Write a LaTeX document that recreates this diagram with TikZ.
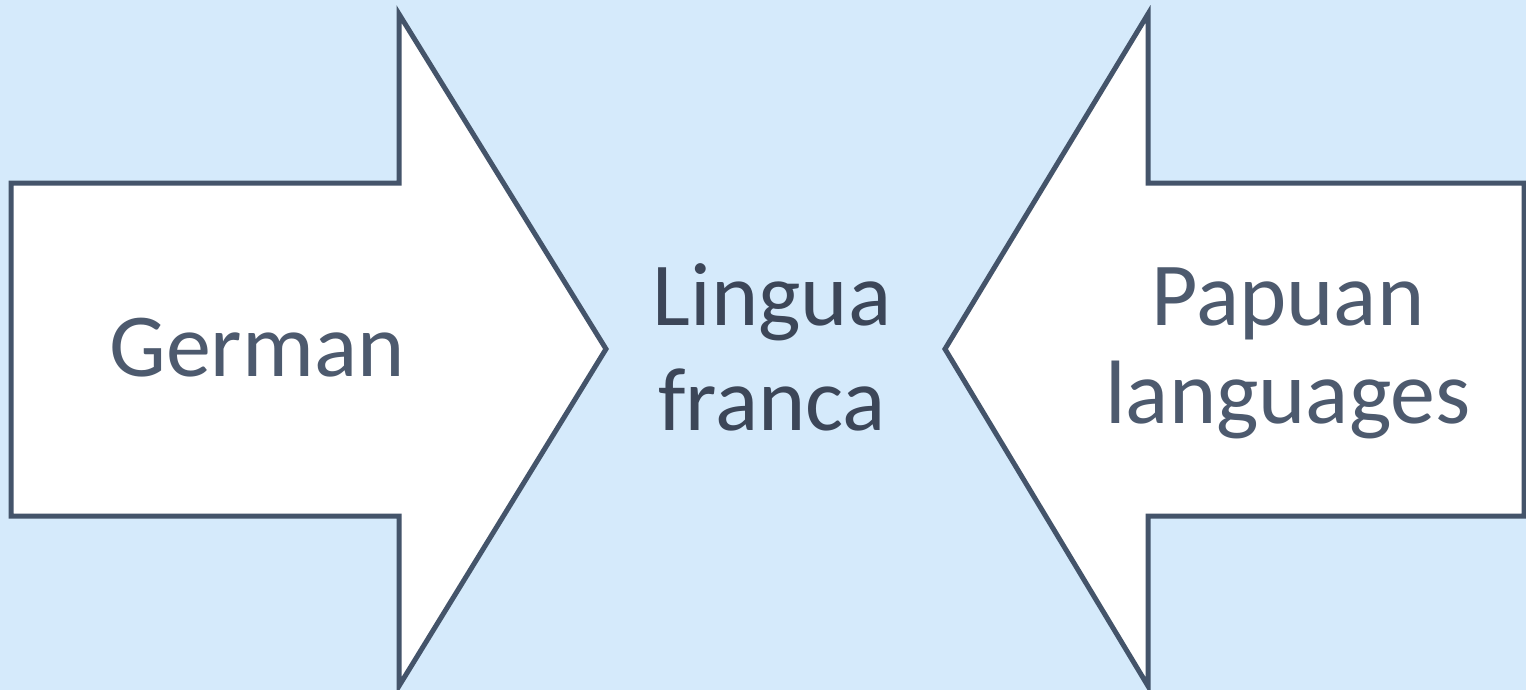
\documentclass[tikz,border=0pt]{standalone}
\usepackage{fontspec}
\setmainfont{Carlito}
\definecolor{bgblue}{HTML}{D5EAFB}
\definecolor{slate}{HTML}{44546A}
\definecolor{textlight}{HTML}{4D5A6E}
\definecolor{textdark}{HTML}{3C4658}
\tikzset{
  bigarrow/.style={draw=slate, fill=white, line width=5pt, line join=miter},
  label/.style={text=textlight, anchor=base, font=\fontsize{90}{108}\selectfont, inner sep=0pt}
}
\begin{document}
\begin{tikzpicture}[x=1pt,y=-1pt]
\fill[bgblue] (0,0) rectangle (1526,690);
\useasboundingbox (0,0) rectangle (1526,690);
\draw[bigarrow] (11,183) -- (399,183) -- (399,14) -- (606,349) -- (399,686) -- (399,516) -- (11,516) -- cycle;
\draw[bigarrow] (1524,183) -- (1148,183) -- (1148,14) -- (945,349) -- (1148,686) -- (1148,516) -- (1524,516) -- cycle;
\node[label] (german) at (257,376) {German};
\node[label, text=textdark] (lingua) at (772,325) {Lingua};
\node[label, text=textdark] (franca) at (772,430) {franca};
\node[label] (papuan) at (1288,325) {Papuan};
\node[label] (languages) at (1288,423) {languages};
\end{tikzpicture}
\end{document}
